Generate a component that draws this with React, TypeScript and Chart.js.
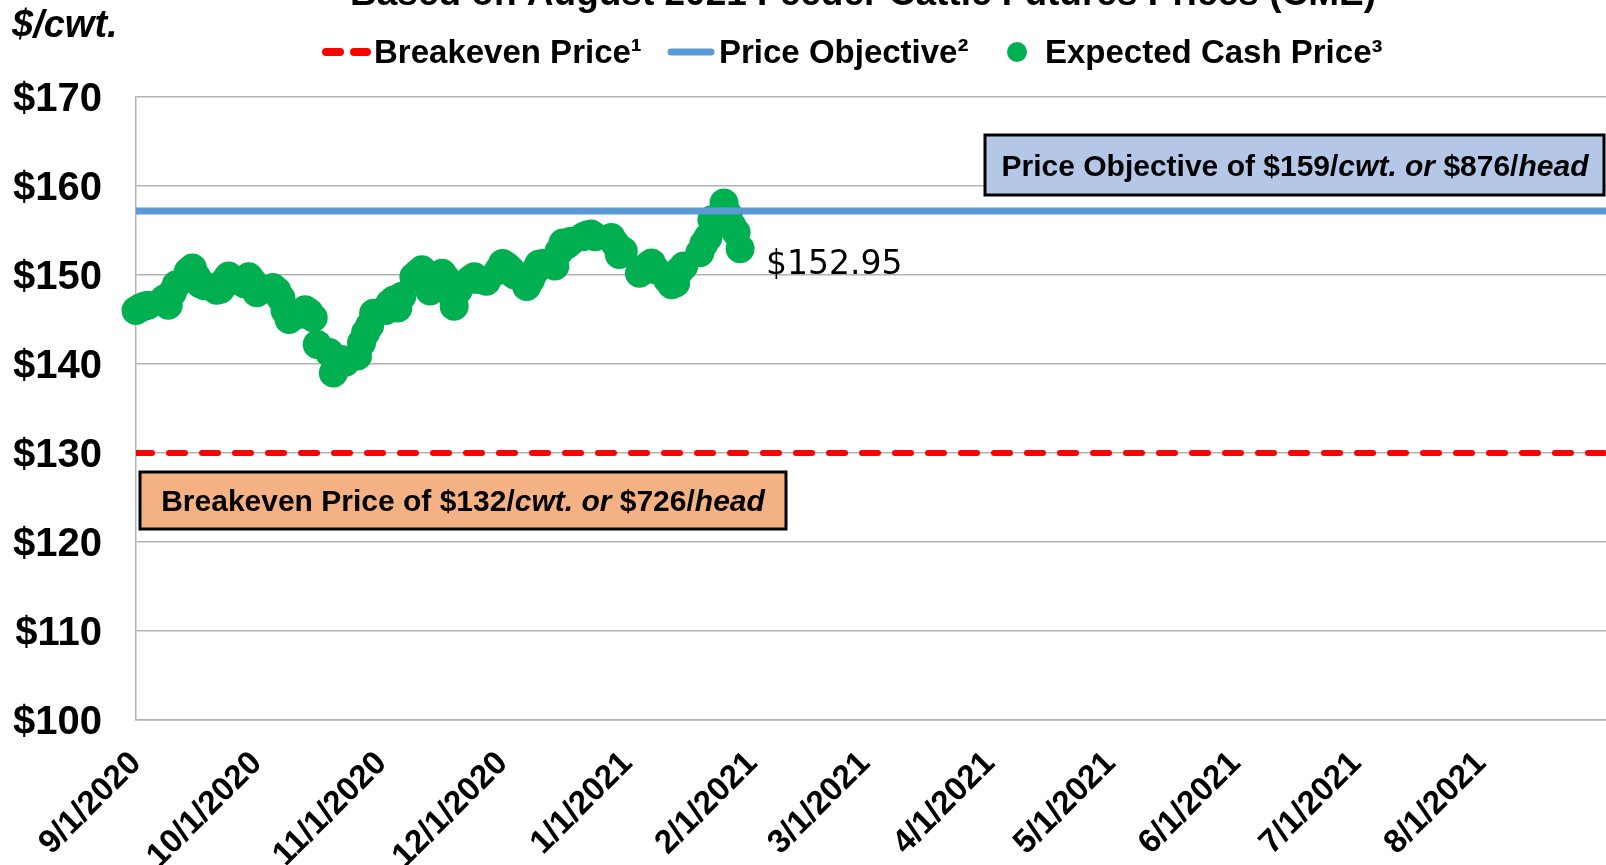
import React, { useEffect, useRef } from 'react';
import { Chart, registerables } from 'chart.js';

Chart.register(...registerables);

// ---- Data (days counted from 9/1/2020) ----
const tradeDays: number[] = [
  0, 1, 2, 3, 7, 8, 9, 10, 13, 14, 15, 16, 17, 20, 21, 22, 23, 24, 27, 28, 29,
  30, 31, 34, 35, 36, 37, 38, 41, 42, 43, 44, 45, 48, 49, 50, 51, 52, 55, 56, 57, 58, 59,
  62, 63, 64, 65, 66, 69, 70, 71, 72, 73, 76, 77, 78, 79, 80, 83, 84, 85, 87, 90,
  91, 92, 93, 94, 97, 98, 99, 100, 101, 104, 105, 106, 107, 108, 111, 112, 113, 114, 118, 119, 120, 121,
  125, 126, 127, 128, 129, 132, 133, 134, 135, 136, 140, 141, 142, 143, 146, 147, 148, 149, 150,
];
const cashPrices: number[] = [
  146.0, 146.3, 146.5, 146.6, 147.3, 146.6, 148.0, 148.9, 150.4, 150.8, 149.8, 149.0, 148.8, 148.3, 148.4, 149.3, 149.9, 149.4, 149.0, 149.8, 149.2,
  148.0, 148.3, 148.6, 148.2, 147.4, 146.0, 145.0, 145.6, 146.1, 145.8, 145.2, 142.2, 141.3, 139.0, 140.0, 140.5, 140.2, 140.9, 142.4, 143.5, 144.3, 145.7,
  146.0, 146.8, 147.2, 146.3, 147.6, 149.8, 150.2, 150.6, 149.8, 148.2, 150.2, 149.6, 148.0, 146.5, 148.3, 149.5, 149.8, 149.5, 149.3, 150.5,
  151.3, 151.0, 150.6, 150.0, 148.7, 149.5, 150.4, 151.2, 151.3, 151.0, 152.6, 153.6, 153.4, 153.8, 154.3, 154.5, 154.6, 154.3, 154.2, 153.5, 152.3, 152.7,
  150.2, 150.5, 151.0, 151.35, 150.6, 149.5, 148.9, 149.1, 150.5, 151.0, 152.5, 153.5, 154.2, 156.2, 158.1, 156.8, 155.5, 154.8, 152.95,
];
const breakevenPrice = 130;
const objectivePrice = 157.2;
const xMinDay = 0;
const xMaxDay = 365;
const xTickDays: number[] = [0, 30, 61, 91, 122, 153, 181, 212, 242, 273, 303, 334];
const xTickLabels: string[] = [
  '9/1/2020', '10/1/2020', '11/1/2020', '12/1/2020', '1/1/2021', '2/1/2021',
  '3/1/2021', '4/1/2021', '5/1/2021', '6/1/2021', '7/1/2021', '8/1/2021',
];
const yTickValues: number[] = [100, 110, 120, 130, 140, 150, 160, 170];
const yTickLabels: string[] = ['$100', '$110', '$120', '$130', '$140', '$150', '$160', '$170'];
const titleText = 'Based on August 2021 Feeder Cattle Futures Prices (CME)';
const yUnitText = '$/cwt.';
const legendLabels: string[] = ['Breakeven Price\u00B9', 'Price Objective\u00B2', 'Expected Cash Price\u00B3'];
const lastPriceText = '$152.95';
const breakevenBoxParts: [string, boolean][] = [
  ['Breakeven Price of $132/', false], ['cwt. or', true], [' $726/', false], ['head', true],
];
const objectiveBoxParts: [string, boolean][] = [
  ['Price Objective of $159/', false], ['cwt. or', true], [' $876/', false], ['head', true],
];

const FONT = '"Liberation Sans", Arial, Helvetica, sans-serif';
const GREEN = '#00B050';
const BLUE = '#5B9BD5';
const RED = '#FF0000';
const GRID = '#B3B3B3';

function drawParts(ctx: CanvasRenderingContext2D, parts: [string, boolean][], cx: number, baseline: number, size: number) {
  const widths = parts.map(([t, it]) => {
    ctx.font = `${it ? 'italic ' : ''}bold ${size}px ${FONT}`;
    return ctx.measureText(t).width;
  });
  const total = widths.reduce((a, b) => a + b, 0);
  let x = cx - total / 2;
  ctx.textAlign = 'left';
  ctx.textBaseline = 'alphabetic';
  ctx.fillStyle = '#000';
  parts.forEach(([t, it], i) => {
    ctx.font = `${it ? 'italic ' : ''}bold ${size}px ${FONT}`;
    ctx.fillText(t, x, baseline);
    x += widths[i];
  });
}

const overlayPlugin = {
  id: 'overlay',
  afterDraw(chart: any) {
    const ctx: CanvasRenderingContext2D = chart.ctx;
    const xs = chart.scales.x;
    const ys = chart.scales.y;
    ctx.save();

    // Title (clipped at the top)
    ctx.fillStyle = '#000';
    ctx.font = `bold 37px ${FONT}`;
    ctx.textAlign = 'center';
    ctx.textBaseline = 'alphabetic';
    ctx.fillText(titleText, 863, 5);

    // Unit label
    ctx.font = `italic bold 38px ${FONT}`;
    ctx.textAlign = 'left';
    ctx.fillText(yUnitText, 12, 37);

    // Legend
    const ly = 52;
    ctx.lineCap = 'round';
    ctx.strokeStyle = RED;
    ctx.lineWidth = 8;
    ctx.beginPath();
    ctx.moveTo(326, ly); ctx.lineTo(340, ly);
    ctx.moveTo(354, ly); ctx.lineTo(367, ly);
    ctx.stroke();
    ctx.strokeStyle = BLUE;
    ctx.lineWidth = 7;
    ctx.beginPath();
    ctx.moveTo(671, ly); ctx.lineTo(711, ly);
    ctx.stroke();
    ctx.fillStyle = GREEN;
    ctx.beginPath();
    ctx.arc(1017, ly, 10, 0, Math.PI * 2);
    ctx.fill();
    ctx.fillStyle = '#000';
    ctx.font = `bold 33px ${FONT}`;
    ctx.textAlign = 'left';
    ctx.fillText(legendLabels[0], 374, 63);
    ctx.fillText(legendLabels[1], 719, 63);
    ctx.fillText(legendLabels[2], 1045, 63);

    // Objective box
    ctx.fillStyle = '#B4C7E7';
    ctx.fillRect(985, 135, 619, 60);
    ctx.strokeStyle = '#000';
    ctx.lineWidth = 3;
    ctx.lineCap = 'butt';
    ctx.strokeRect(985, 135, 619, 60);
    drawParts(ctx, objectiveBoxParts, 1295, 176, 30);

    // Breakeven box
    ctx.fillStyle = '#F4B183';
    ctx.fillRect(140, 472, 646, 57);
    ctx.strokeStyle = '#000';
    ctx.lineWidth = 3;
    ctx.strokeRect(140, 472, 646, 57);
    drawParts(ctx, breakevenBoxParts, 463, 511, 30);

    // Last price label
    const lastX = xs.getPixelForValue(tradeDays[tradeDays.length - 1]);
    const lastY = ys.getPixelForValue(cashPrices[cashPrices.length - 1]);
    ctx.fillStyle = '#000';
    ctx.font = `33px "DejaVu Sans", sans-serif`;
    ctx.textAlign = 'left';
    ctx.textBaseline = 'alphabetic';
    ctx.fillText(lastPriceText, lastX + 26, lastY + 25);

    ctx.restore();
  },
};

export default function App() {
  const canvasRef = useRef<HTMLCanvasElement | null>(null);

  useEffect(() => {
    document.body.style.margin = '0';
    document.body.style.overflow = 'hidden';
    const canvas = canvasRef.current;
    if (!canvas) return;
    const chart = new Chart(canvas, {
      type: 'scatter',
      data: {
        datasets: [
          {
            type: 'line',
            label: legendLabels[0],
            data: [{ x: xMinDay, y: breakevenPrice }, { x: xMaxDay, y: breakevenPrice }],
            borderColor: RED,
            borderWidth: 6,
            borderDash: [16, 17],
            borderCapStyle: 'round',
            pointRadius: 0,
            fill: false,
          } as any,
          {
            type: 'line',
            label: legendLabels[1],
            data: [{ x: xMinDay, y: objectivePrice }, { x: xMaxDay, y: objectivePrice }],
            borderColor: BLUE,
            borderWidth: 7,
            pointRadius: 0,
            fill: false,
          } as any,
          {
            label: legendLabels[2],
            data: tradeDays.map((d, i) => ({ x: d, y: cashPrices[i] })),
            backgroundColor: GREEN,
            borderColor: GREEN,
            pointRadius: 14.5,
            pointBorderWidth: 0,
            showLine: false,
            clip: false,
          } as any,
        ],
      },
      options: {
        responsive: false,
        animation: false,
        devicePixelRatio: 1,
        layout: { autoPadding: false, padding: { top: 97, left: 0, right: 0, bottom: 0 } },
        plugins: {
          legend: { display: false },
          title: { display: false },
          tooltip: { enabled: false },
        },
        scales: {
          x: {
            type: 'linear',
            min: xMinDay,
            max: xMaxDay,
            grid: { display: false },
            border: { display: true, color: GRID, width: 1.5 },
            afterBuildTicks: (scale: any) => {
              scale.ticks = xTickDays.map((v) => ({ value: v }));
            },
            afterFit: (scale: any) => {
              scale.height = 145;
              scale.paddingRight = 0;
              scale.paddingLeft = 0;
            },
            ticks: {
              autoSkip: false,
              maxRotation: 45,
              minRotation: 45,
              padding: 16,
              color: '#000',
              font: { family: FONT, size: 33, weight: 'bold' },
              callback: (_v: any, i: number) => xTickLabels[i],
            },
          },
          y: {
            min: 100,
            max: 170,
            afterBuildTicks: (scale: any) => {
              scale.ticks = yTickValues.map((v) => ({ value: v }));
            },
            afterFit: (scale: any) => {
              scale.width = 136;
              scale.paddingTop = 0;
              scale.paddingBottom = 0;
            },
            grid: { color: GRID, lineWidth: 1.5, drawTicks: false },
            border: { display: true, color: GRID, width: 1.5 },
            ticks: {
              padding: 34,
              labelOffset: 3,
              color: '#000',
              font: { family: FONT, size: 40, weight: 'bold' },
              callback: (_v: any, i: number) => yTickLabels[i],
            },
          },
        },
      },
      plugins: [overlayPlugin],
    });
    return () => chart.destroy();
  }, []);

  return (
    <div style={{ position: 'absolute', left: 0, top: 0, width: 1606, height: 865, background: '#fff' }}>
      <canvas ref={canvasRef} width={1606} height={865} style={{ display: 'block' }} />
    </div>
  );
}
